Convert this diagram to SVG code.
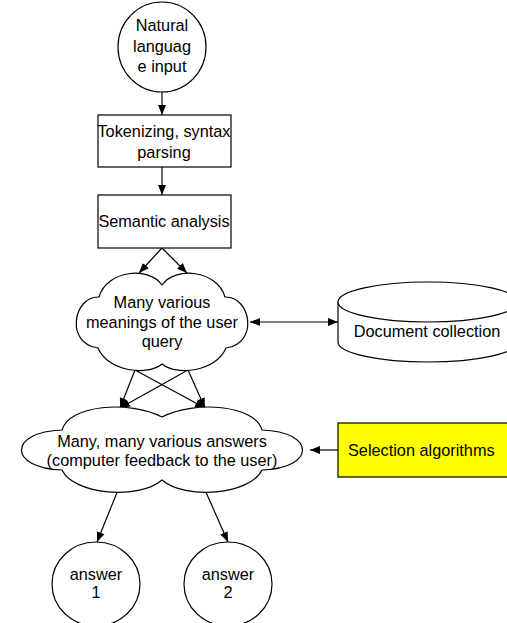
<svg xmlns="http://www.w3.org/2000/svg" width="507" height="623" viewBox="0 0 507 623">
<defs>
<marker id="ah" viewBox="0 0 10 10" refX="10" refY="5" markerWidth="10" markerHeight="10" markerUnits="userSpaceOnUse" orient="auto-start-reverse">
<path d="M0,1 L10,5 L0,9 Z" fill="#000"/>
</marker>
<style>
.s{fill:#fff;stroke:#000;stroke-width:1.2}
.t{font-family:"Liberation Sans",Arial,sans-serif;font-size:16.3px;fill:#000;text-anchor:middle}
.a{font-family:"Liberation Sans",Arial,sans-serif;font-size:16.3px;fill:#000;text-anchor:middle}
.c{stroke:#000;stroke-width:1.2;fill:none;marker-end:url(#ah)}
</style>
</defs>
<rect width="507" height="623" fill="#fff"/>
<g id="connectors">
<line class="c" x1="162" y1="92" x2="162" y2="115"/>
<line class="c" x1="162" y1="167" x2="162" y2="195"/>
<line class="c" x1="162" y1="248" x2="139" y2="273"/>
<line class="c" x1="162" y1="248" x2="187" y2="273"/>
<line class="c" x1="250" y1="322" x2="338" y2="322" style="marker-start:url(#ah)"/>
<line class="c" x1="135" y1="370" x2="120" y2="408"/>
<line class="c" x1="188" y1="370" x2="205" y2="408"/>
<line class="c" x1="135" y1="370" x2="205" y2="408"/>
<line class="c" x1="188" y1="370" x2="120" y2="408"/>
<line class="c" x1="338" y1="450" x2="310" y2="450"/>
<line class="c" x1="118" y1="490" x2="97" y2="542"/>
<line class="c" x1="205" y1="490" x2="228" y2="542"/>
</g>
<g id="input">
<ellipse class="s" cx="162" cy="47" rx="44" ry="45"/>
<text class="t" x="162" y="31">Natural</text>
<text class="t" x="162" y="52">languag</text>
<text class="t" x="162" y="72">e input</text>
</g>
<g id="tokenizing">
<rect class="s" x="98" y="115" width="133" height="52"/>
<text class="t" x="164" y="137">Tokenizing, syntax</text>
<text class="t" x="164" y="158">parsing</text>
</g>
<g id="semantic">
<rect class="s" x="98" y="195" width="133" height="53"/>
<text class="t" x="164" y="227">Semantic analysis</text>
</g>
<g id="meanings">
<path class="s" d="M162 285 C175 266,217 270,225 297 C251 296,259 344,226 348 C216 372,176 376,162 364 C148 376,108 372,98 348 C65 344,73 296,99 297 C107 270,149 266,162 285 Z"/>
<text class="t" x="162" y="308">Many various</text>
<text class="t" x="162" y="328">meanings of the user</text>
<text class="t" x="162" y="347">query</text>
</g>
<g id="documents">
<path class="s" d="M338 302 L338 342 A90 20 0 0 0 518 342 L518 302"/>
<ellipse class="s" cx="428" cy="302" rx="90" ry="20"/>
<text class="a" x="427" y="337">Document collection</text>
</g>
<g id="answers">
<path class="s" d="M162 417 C195 400,255 405,262 430 C316 432,316 468,262 470 C250 495,185 500,162 480 C139 500,74 495,62 470 C8 468,8 432,62 430 C69 405,129 400,162 417 Z"/>
<text class="t" x="162" y="447">Many, many various answers</text>
<text class="t" x="162" y="466">(computer feedback to the user)</text>
</g>
<g id="selection">
<rect x="338" y="423" width="175" height="54" fill="#ffff00" stroke="#000" stroke-width="1.2"/>
<text class="t" x="348" y="456" style="text-anchor:start">Selection algorithms</text>
</g>
<g id="answer1">
<ellipse class="s" cx="96" cy="584" rx="44" ry="42"/>
<text class="t" x="96" y="580">answer</text>
<text class="t" x="96" y="598">1</text>
</g>
<g id="answer2">
<ellipse class="s" cx="228" cy="584" rx="44" ry="42"/>
<text class="t" x="228" y="580">answer</text>
<text class="t" x="228" y="598">2</text>
</g>
</svg>
